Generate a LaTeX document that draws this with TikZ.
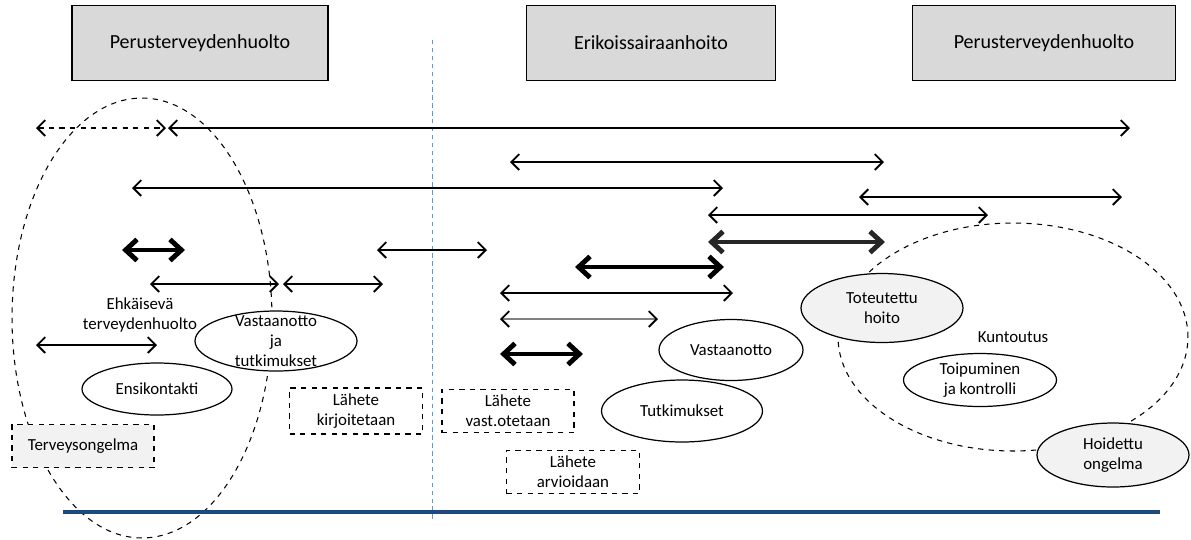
\documentclass[tikz,border=0pt]{standalone}
\usepackage{fontspec}
\setmainfont{Carlito}
\usetikzlibrary{arrows.meta,shapes.geometric}
\definecolor{linjasin}{RGB}{31,73,125}
\definecolor{raja}{RGB}{91,155,213}

\begin{document}
\begin{tikzpicture}[
  x=0.02cm, y=-0.02cm,
  every node/.style={font=\fontsize{9.6}{11.2}\selectfont, align=center},
  header/.style={draw, line width=0.7pt, fill=gray!30, minimum height=1.5cm,
    font=\fontsize{11.4}{13}\selectfont},
  ell/.style={ellipse, draw, line width=0.7pt, fill=white, inner sep=0pt},
  lbox/.style={draw, dashed, line width=0.7pt, fill=white, minimum height=0.86cm},
  arr/.style={{Straight Barb[length=4.5pt,width=9pt]}-{Straight Barb[length=4.5pt,width=9pt]}, line width=1.1pt},
  bold/.style={{Straight Barb[length=6.5pt,width=12pt]}-{Straight Barb[length=6.5pt,width=12pt]}, line width=2.8pt}
]
  \useasboundingbox (0,0) rectangle (1191,539);

  % alueet
  \draw[dashed, line width=0.6pt] (142,318) ellipse [x radius=2.6cm, y radius=4.4cm];
  \draw[dashed, line width=0.6pt] (1013,337) ellipse [x radius=3.5cm, y radius=2.28cm];
  \draw[raja, dash pattern=on 2.5pt off 2pt, line width=0.5pt] (432,40) -- (432,522);
  \draw[linjasin, line width=2.3pt] (63,512) -- (1160,512);

  \node[header, minimum width=5.12cm] (p1) at (200,43) {Perusterveydenhuolto};
  \node[header, minimum width=4.98cm] (e)  at (651,43) {Erikoissairaanhoito};
  \node[header, minimum width=5.26cm] (p2) at (1044,43) {Perusterveydenhuolto};

  \node[lbox, fill=gray!10, minimum width=2.84cm] (t) at (83,446) {Terveysongelma};
  \node[ell, minimum width=3.0cm, minimum height=1.04cm] (en) at (157,389) {Ensikontakti};
  \node[ell, minimum width=3.24cm, minimum height=1.2cm,
    label={center:Vastaanotto\\ja\\tutkimukset}] (vt) at (276,341) {};
  \node (eh) at (140,315) {Ehkäisevä\\terveydenhuolto};
  \node[lbox, minimum width=2.66cm] (lk) at (356,411) {Lähete\\kirjoitetaan};
  \node[lbox, minimum width=2.64cm] (lv) at (508,411) {Lähete\\vast.otetaan};
  \node[lbox, minimum width=2.66cm, minimum height=0.84cm] (la) at (573,472) {Lähete\\arvioidaan};
  \node[ell, minimum width=3.22cm, minimum height=1.24cm] (tu) at (682,411) {Tutkimukset};
  \node[ell, minimum width=2.88cm, minimum height=1.22cm] (va) at (731,350) {Vastaanotto};
  \node[ell, fill=gray!10, minimum width=3.24cm, minimum height=1.38cm] (th) at (882,308) {Toteutettu\\hoito};
  \node (ku) at (1013,337) {Kuntoutus};
  \node[ell, minimum width=3.06cm, minimum height=1.06cm] (tk) at (980,380) {Toipuminen\\ja kontrolli};
  \node[ell, fill=gray!10, minimum width=3.04cm, minimum height=1.28cm] (ho) at (1113,455) {Hoidettu\\ongelma};

  % aikajanat
  \draw[arr, dashed] (36,128) -- (166,128);
  \draw[arr] (168,128) -- (1130,128);
  \draw[arr] (510,162) -- (884,162);
  \draw[arr] (132,188) -- (723,188);
  \draw[arr] (859,197) -- (1122,197);
  \draw[arr] (708,215) -- (988,215);
  \draw[bold, black!85] (708,242) -- (885,242);
  \draw[bold] (122,250) -- (185,250);
  \draw[arr] (377,250) -- (487,250);
  \draw[bold] (575,267) -- (724,267);
  \draw[arr] (150,284) -- (279,284);
  \draw[arr] (283,284) -- (383,284);
  \draw[arr] (500,293) -- (733,293);
  \draw[arr, gray, {Straight Barb[length=4.5pt,width=9pt,color=black]}-{Straight Barb[length=4.5pt,width=9pt,color=black]}] (500,319) -- (658,319);
  \draw[arr] (36,345) -- (157,345);
  \draw[bold] (500,354) -- (583,354);
\end{tikzpicture}
\end{document}
